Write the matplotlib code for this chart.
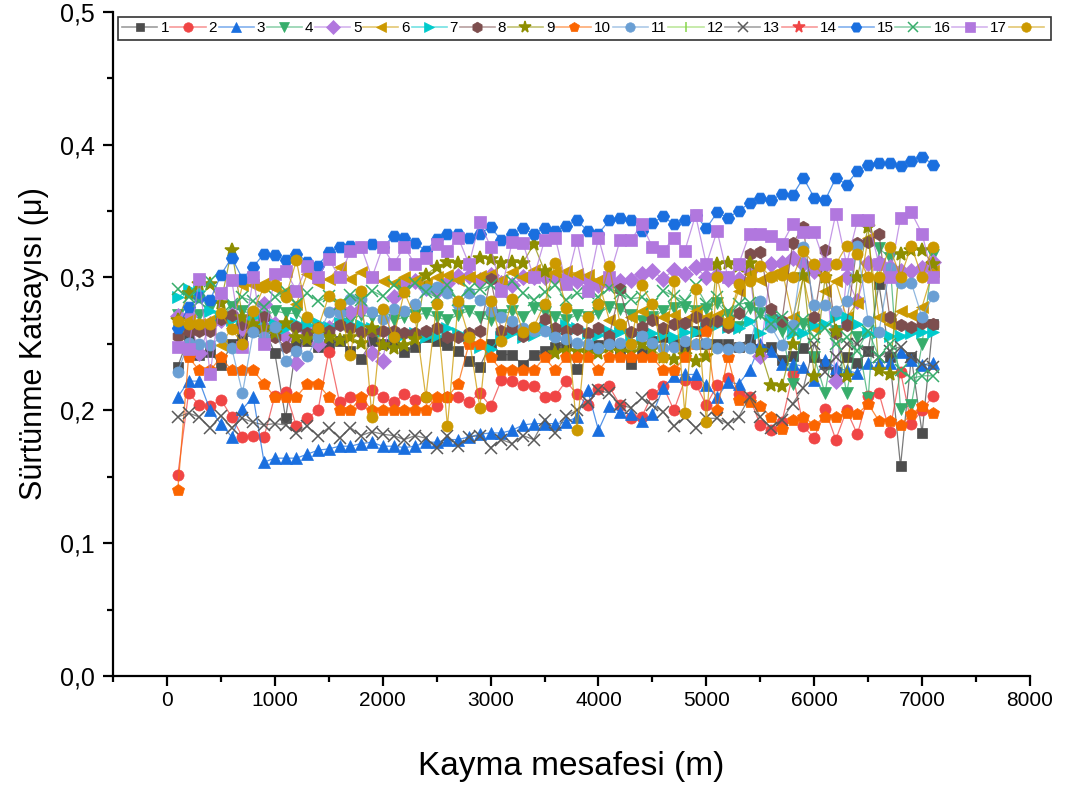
import numpy as np
import matplotlib
matplotlib.use("Agg")
import matplotlib.pyplot as plt
from matplotlib.ticker import MultipleLocator, FuncFormatter
from matplotlib.lines import Line2D
from matplotlib.colors import to_rgb

plt.rcParams['font.family'] = ['Liberation Sans', 'DejaVu Sans']

# sliding distance (m), one reading every 100 m
distance = np.arange(100, 7200, 100)

s1 = [0.233, 0.255, 0.242, 0.244, 0.234, 0.250, 0.255, 0.260, 0.262, 0.243,
      0.194, 0.250, 0.252, 0.248, 0.250, 0.252, 0.245, 0.239, 0.252, 0.250,
      0.252, 0.244, 0.248, 0.255, 0.252, 0.249, 0.245, 0.237, 0.233, 0.250,
      0.242, 0.242, 0.234, 0.242, 0.245, 0.248, 0.250, 0.231, 0.248, 0.249,
      0.252, 0.245, 0.235, 0.243, 0.252, 0.255, 0.250, 0.246, 0.260, 0.250,
      0.250, 0.250, 0.248, 0.254, 0.246, 0.248, 0.238, 0.241, 0.247, 0.240,
      0.235, 0.229, 0.240, 0.236, 0.245, 0.295, 0.240, 0.158, 0.240, 0.183, 0.265]
s2 = [0.151, 0.213, 0.204, 0.203, 0.208, 0.195, 0.180, 0.181, 0.180, 0.211,
      0.214, 0.188, 0.194, 0.200, 0.244, 0.206, 0.210, 0.205, 0.215, 0.210,
      0.206, 0.212, 0.208, 0.210, 0.203, 0.210, 0.210, 0.206, 0.213, 0.203,
      0.223, 0.222, 0.219, 0.218, 0.210, 0.211, 0.222, 0.212, 0.204, 0.216,
      0.218, 0.204, 0.194, 0.195, 0.212, 0.218, 0.200, 0.223, 0.220, 0.204,
      0.219, 0.224, 0.212, 0.210, 0.189, 0.185, 0.191, 0.227, 0.188, 0.179,
      0.201, 0.178, 0.200, 0.182, 0.211, 0.213, 0.184, 0.229, 0.190, 0.200, 0.211]
s3 = [0.210, 0.222, 0.222, 0.200, 0.190, 0.180, 0.201, 0.210, 0.161, 0.164,
      0.164, 0.164, 0.167, 0.170, 0.171, 0.173, 0.173, 0.175, 0.176, 0.173,
      0.173, 0.172, 0.173, 0.176, 0.176, 0.178, 0.178, 0.180, 0.182, 0.183,
      0.183, 0.185, 0.189, 0.190, 0.190, 0.190, 0.191, 0.195, 0.215, 0.185,
      0.203, 0.199, 0.197, 0.192, 0.197, 0.217, 0.226, 0.227, 0.227, 0.219,
      0.210, 0.221, 0.220, 0.230, 0.250, 0.245, 0.235, 0.235, 0.233, 0.223,
      0.238, 0.232, 0.230, 0.228, 0.236, 0.236, 0.236, 0.244, 0.238, 0.234, 0.236]
s4 = [0.272, 0.268, 0.272, 0.277, 0.270, 0.278, 0.275, 0.272, 0.270, 0.275,
      0.273, 0.273, 0.265, 0.261, 0.261, 0.265, 0.268, 0.272, 0.270, 0.272,
      0.268, 0.270, 0.272, 0.273, 0.270, 0.268, 0.272, 0.275, 0.270, 0.268,
      0.272, 0.275, 0.270, 0.277, 0.274, 0.270, 0.268, 0.272, 0.270, 0.273,
      0.278, 0.276, 0.272, 0.267, 0.270, 0.275, 0.277, 0.278, 0.275, 0.276,
      0.281, 0.272, 0.263, 0.277, 0.273, 0.268, 0.260, 0.220, 0.265, 0.240,
      0.213, 0.260, 0.213, 0.255, 0.209, 0.322, 0.315, 0.201, 0.204, 0.250, 0.317]
s5 = [0.271, 0.271, 0.243, 0.265, 0.268, 0.272, 0.262, 0.270, 0.280, 0.265,
      0.255, 0.236, 0.260, 0.250, 0.262, 0.276, 0.274, 0.276, 0.243, 0.237,
      0.285, 0.295, 0.297, 0.292, 0.290, 0.296, 0.301, 0.301, 0.298, 0.302,
      0.296, 0.294, 0.300, 0.300, 0.300, 0.300, 0.300, 0.297, 0.298, 0.294,
      0.296, 0.297, 0.298, 0.303, 0.305, 0.299, 0.306, 0.303, 0.308, 0.300,
      0.302, 0.299, 0.299, 0.305, 0.241, 0.310, 0.311, 0.315, 0.310, 0.305,
      0.310, 0.222, 0.300, 0.282, 0.311, 0.311, 0.308, 0.305, 0.305, 0.307, 0.312]
s6 = [0.262, 0.268, 0.265, 0.268, 0.249, 0.262, 0.294, 0.294, 0.296, 0.292,
      0.290, 0.280, 0.303, 0.296, 0.299, 0.308, 0.299, 0.304, 0.300, 0.297,
      0.296, 0.300, 0.298, 0.296, 0.300, 0.302, 0.298, 0.300, 0.301, 0.303,
      0.298, 0.304, 0.300, 0.306, 0.304, 0.304, 0.305, 0.303, 0.302, 0.298,
      0.268, 0.262, 0.270, 0.275, 0.268, 0.270, 0.272, 0.268, 0.275, 0.270,
      0.272, 0.268, 0.290, 0.303, 0.298, 0.302, 0.306, 0.270, 0.300, 0.262,
      0.290, 0.297, 0.270, 0.281, 0.330, 0.270, 0.265, 0.275, 0.272, 0.278, 0.305]
s7 = [0.285, 0.291, 0.290, 0.275, 0.270, 0.268, 0.265, 0.270, 0.268, 0.265,
      0.262, 0.266, 0.264, 0.266, 0.263, 0.266, 0.265, 0.264, 0.262, 0.260,
      0.258, 0.257, 0.258, 0.255, 0.256, 0.262, 0.258, 0.255, 0.248, 0.246,
      0.255, 0.258, 0.255, 0.257, 0.262, 0.258, 0.264, 0.262, 0.258, 0.257,
      0.260, 0.259, 0.257, 0.255, 0.258, 0.257, 0.255, 0.259, 0.259, 0.262,
      0.264, 0.263, 0.262, 0.267, 0.258, 0.267, 0.268, 0.258, 0.258, 0.264,
      0.265, 0.270, 0.270, 0.265, 0.258, 0.259, 0.256, 0.256, 0.258, 0.259, 0.259]
s8 = [0.256, 0.260, 0.260, 0.260, 0.269, 0.272, 0.265, 0.262, 0.270, 0.255,
      0.248, 0.263, 0.258, 0.262, 0.260, 0.264, 0.262, 0.259, 0.260, 0.260,
      0.260, 0.258, 0.258, 0.260, 0.262, 0.255, 0.255, 0.258, 0.260, 0.299,
      0.260, 0.262, 0.256, 0.262, 0.269, 0.262, 0.260, 0.261, 0.258, 0.262,
      0.256, 0.291, 0.259, 0.263, 0.268, 0.262, 0.265, 0.266, 0.270, 0.266,
      0.267, 0.263, 0.273, 0.318, 0.319, 0.276, 0.267, 0.326, 0.338, 0.270,
      0.321, 0.258, 0.264, 0.326, 0.327, 0.333, 0.270, 0.264, 0.263, 0.266, 0.265]
s9 = [0.268, 0.288, 0.295, 0.295, 0.281, 0.321, 0.270, 0.265, 0.262, 0.258,
      0.266, 0.255, 0.254, 0.258, 0.255, 0.253, 0.255, 0.251, 0.262, 0.249,
      0.247, 0.249, 0.254, 0.302, 0.308, 0.312, 0.311, 0.311, 0.315, 0.314,
      0.311, 0.312, 0.311, 0.325, 0.305, 0.243, 0.245, 0.245, 0.243, 0.243,
      0.248, 0.245, 0.244, 0.250, 0.246, 0.240, 0.239, 0.242, 0.237, 0.241,
      0.310, 0.311, 0.309, 0.311, 0.245, 0.219, 0.218, 0.250, 0.302, 0.226,
      0.300, 0.260, 0.226, 0.300, 0.338, 0.230, 0.227, 0.318, 0.321, 0.321, 0.310]
s10 = [0.140, 0.240, 0.230, 0.230, 0.240, 0.230, 0.230, 0.230, 0.220, 0.210,
       0.210, 0.210, 0.220, 0.220, 0.210, 0.200, 0.200, 0.210, 0.200, 0.200,
       0.200, 0.200, 0.200, 0.200, 0.210, 0.210, 0.220, 0.250, 0.250, 0.240,
       0.230, 0.230, 0.230, 0.230, 0.240, 0.230, 0.240, 0.240, 0.240, 0.230,
       0.240, 0.240, 0.240, 0.240, 0.240, 0.230, 0.230, 0.240, 0.250, 0.260,
       0.200, 0.240, 0.208, 0.206, 0.203, 0.195, 0.186, 0.193, 0.195, 0.189,
       0.195, 0.195, 0.198, 0.197, 0.205, 0.192, 0.192, 0.189, 0.197, 0.203, 0.198]
s11 = [0.229, 0.251, 0.250, 0.249, 0.255, 0.247, 0.213, 0.259, 0.255, 0.263,
       0.237, 0.245, 0.241, 0.255, 0.274, 0.273, 0.284, 0.284, 0.274, 0.269,
       0.276, 0.275, 0.280, 0.291, 0.293, 0.288, 0.280, 0.288, 0.283, 0.275,
       0.270, 0.267, 0.262, 0.260, 0.260, 0.255, 0.254, 0.251, 0.250, 0.247,
       0.250, 0.251, 0.250, 0.256, 0.251, 0.247, 0.248, 0.252, 0.250, 0.251,
       0.247, 0.246, 0.248, 0.247, 0.282, 0.263, 0.249, 0.264, 0.323, 0.279,
       0.279, 0.275, 0.282, 0.324, 0.267, 0.259, 0.307, 0.296, 0.296, 0.270, 0.286]
# series 12 and 14 appear only in the legend, no points are visible
s12 = []
s13 = [0.195, 0.198, 0.195, 0.187, 0.196, 0.187, 0.194, 0.191, 0.189, 0.190,
       0.189, 0.183, 0.188, 0.181, 0.187, 0.179, 0.187, 0.181, 0.184, 0.182,
       0.181, 0.178, 0.181, 0.179, 0.172, 0.181, 0.173, 0.180, 0.181, 0.172,
       0.178, 0.175, 0.181, 0.178, 0.193, 0.183, 0.196, 0.200, 0.206, 0.215,
       0.213, 0.204, 0.202, 0.209, 0.204, 0.199, 0.188, 0.195, 0.187, 0.194,
       0.194, 0.190, 0.195, 0.210, 0.195, 0.187, 0.193, 0.205, 0.217, 0.250,
       0.229, 0.240, 0.250, 0.250, 0.244, 0.240, 0.245, 0.248, 0.240, 0.235, 0.233]
s14 = []
s15 = [0.262, 0.278, 0.285, 0.283, 0.302, 0.315, 0.299, 0.308, 0.318, 0.317,
       0.313, 0.318, 0.312, 0.309, 0.319, 0.323, 0.324, 0.323, 0.325, 0.323,
       0.331, 0.330, 0.326, 0.320, 0.329, 0.333, 0.333, 0.330, 0.333, 0.338,
       0.328, 0.333, 0.337, 0.333, 0.337, 0.335, 0.339, 0.343, 0.335, 0.333,
       0.343, 0.345, 0.343, 0.335, 0.341, 0.346, 0.340, 0.343, 0.347, 0.337,
       0.349, 0.345, 0.350, 0.356, 0.360, 0.358, 0.363, 0.362, 0.375, 0.360,
       0.358, 0.375, 0.370, 0.380, 0.385, 0.386, 0.386, 0.384, 0.388, 0.391, 0.385]
s16 = [0.291, 0.285, 0.282, 0.297, 0.288, 0.280, 0.285, 0.282, 0.278, 0.285,
       0.290, 0.280, 0.288, 0.282, 0.286, 0.280, 0.287, 0.283, 0.290, 0.286,
       0.294, 0.290, 0.296, 0.289, 0.285, 0.294, 0.283, 0.291, 0.291, 0.294,
       0.289, 0.297, 0.288, 0.283, 0.289, 0.294, 0.283, 0.288, 0.288, 0.285,
       0.292, 0.288, 0.284, 0.285, 0.280, 0.290, 0.286, 0.282, 0.294, 0.280,
       0.285, 0.275, 0.280, 0.281, 0.272, 0.265, 0.270, 0.260, 0.268, 0.255,
       0.262, 0.250, 0.255, 0.245, 0.260, 0.240, 0.250, 0.230, 0.224, 0.226, 0.226]
s17 = [0.248, 0.246, 0.299, 0.227, 0.288, 0.298, 0.248, 0.300, 0.250, 0.303,
       0.305, 0.290, 0.309, 0.300, 0.314, 0.300, 0.320, 0.323, 0.300, 0.323,
       0.310, 0.323, 0.310, 0.315, 0.325, 0.320, 0.330, 0.310, 0.342, 0.323,
       0.290, 0.327, 0.326, 0.300, 0.328, 0.330, 0.295, 0.328, 0.290, 0.330,
       0.300, 0.328, 0.328, 0.340, 0.323, 0.320, 0.330, 0.320, 0.347, 0.310,
       0.335, 0.300, 0.310, 0.333, 0.333, 0.331, 0.325, 0.340, 0.334, 0.334,
       0.310, 0.348, 0.310, 0.343, 0.343, 0.310, 0.300, 0.345, 0.349, 0.333, 0.300]
s18 = [0.267, 0.265, 0.265, 0.265, 0.273, 0.261, 0.250, 0.275, 0.293, 0.294,
       0.285, 0.313, 0.270, 0.262, 0.286, 0.280, 0.242, 0.290, 0.195, 0.276,
       0.255, 0.289, 0.270, 0.210, 0.280, 0.188, 0.282, 0.255, 0.202, 0.282,
       0.252, 0.284, 0.259, 0.263, 0.280, 0.311, 0.277, 0.185, 0.270, 0.280,
       0.309, 0.265, 0.250, 0.294, 0.280, 0.240, 0.297, 0.198, 0.291, 0.191,
       0.300, 0.266, 0.295, 0.297, 0.309, 0.300, 0.302, 0.300, 0.320, 0.310,
       0.300, 0.310, 0.324, 0.318, 0.300, 0.300, 0.323, 0.300, 0.324, 0.300, 0.323]

series = [s1, s2, s3, s4, s5, s6, s7, s8, s9, s10, s11, s12, s13, s14, s15, s16, s17, s18]
# the legend box cuts off the last label in the original
labels = [str(i) for i in range(1, 18)] + [""]

colors = ['#4d4d4d', '#f04545', '#1a6fdf', '#37ad6b', '#b177de', '#cc9900',
          '#00cbcc', '#7d4e4e', '#8e8e00', '#fb6500', '#6a9fd4', '#87d64c',
          '#595959', '#f04545', '#1a6fdf', '#37ad6b', '#b177de', '#cc9900']
markers = ['s', 'o', '^', 'v', 'D', '<', '>', 'h', '*', 'p', 'o', '|',
           'x', '*', 'H', 'x', 's', 'o']
sizes = [7, 8, 9, 9, 8, 9, 9, 9, 10, 9, 8, 9, 8, 10, 9, 8, 8, 8]


def pale(c, f=0.45):
    r, g, b = to_rgb(c)
    return (r + (1 - r) * f, g + (1 - g) * f, b + (1 - b) * f)


fig = plt.figure(figsize=(10.89, 7.87), dpi=100)
ax = fig.add_axes([0.1038, 0.141, 0.842, 0.844])

handles = []
for y, lab, c, m, ms in zip(series, labels, colors, markers, sizes):
    mew = 1.1 if m in ('x', '|', '*') else 0.5
    x = distance[:len(y)]
    ax.plot(x, y, color=c, lw=0.9, alpha=0.75)
    ax.plot(x, y, ls='none', marker=m, ms=ms, mfc=c, mec=c, mew=mew)
    handles.append(Line2D([], [], color=pale(c), lw=1.2, marker=m, ms=ms * 0.85,
                          mfc=c, mec=c, mew=mew, label=lab))

ax.set_xlim(-500, 8000)
ax.set_ylim(0, 0.5)
ax.xaxis.set_major_locator(MultipleLocator(1000))
ax.xaxis.set_minor_locator(MultipleLocator(500))
ax.yaxis.set_major_locator(MultipleLocator(0.1))
ax.yaxis.set_minor_locator(MultipleLocator(0.05))
ax.yaxis.set_major_formatter(FuncFormatter(lambda v, p: f"{v:.1f}".replace('.', ',')))
ax.spines['top'].set_visible(False)
ax.spines['right'].set_visible(False)
for sp in ('left', 'bottom'):
    ax.spines[sp].set_linewidth(1.6)
ax.tick_params(which='major', direction='out', length=7, width=1.6, labelsize=15)
ax.tick_params(axis='y', which='major', labelsize=18, pad=6)
ax.tick_params(which='minor', direction='out', length=4, width=1.6)

ax.set_xlabel("Kayma mesafesi (m)", fontsize=24, labelpad=30)
ax.set_ylabel("Sürtünme Katsayısı (μ)", fontsize=22, labelpad=8)

leg = fig.legend(handles=handles, loc='upper left', bbox_to_anchor=(0.108, 0.979),
                 ncol=18, fontsize=11, frameon=True, fancybox=False,
                 edgecolor='black', handlelength=2.3, handletextpad=0.2,
                 columnspacing=0.1, borderpad=0.3, borderaxespad=0)
leg.get_frame().set_linewidth(1.2)

fig.savefig("out.png", dpi=100)
